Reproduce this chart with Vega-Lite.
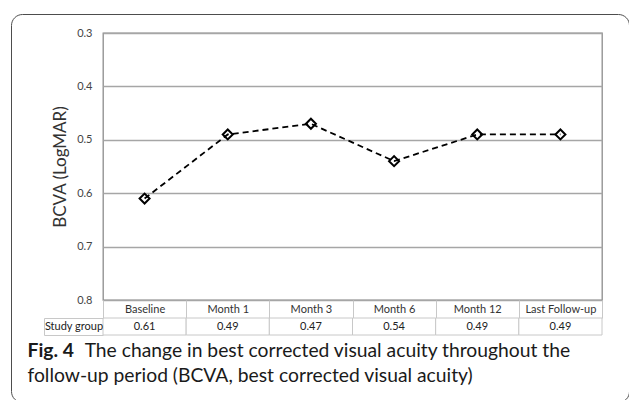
{
  "$schema": "https://vega.github.io/schema/vega-lite/v6.json",
  "padding": {"left": 10, "top": 11, "right": 0, "bottom": 0},
  "config": {"font": "Lato", "view": {"stroke": null}},
  "datasets": {
    "bcva": [
      {"time": "Baseline", "bcva": 0.61, "group": "Study group"},
      {"time": "Month 1", "bcva": 0.49, "group": "Study group"},
      {"time": "Month 3", "bcva": 0.47, "group": "Study group"},
      {"time": "Month 6", "bcva": 0.54, "group": "Study group"},
      {"time": "Month 12", "bcva": 0.49, "group": "Study group"},
      {"time": "Last Follow-up", "bcva": 0.49, "group": "Study group"}
    ]
  },
  "bounds": "flush",
  "spacing": 18,
  "vconcat": [
    {
      "width": 499,
      "height": 1,
      "data": {"name": "bcva"},
      "mark": {"type": "point", "opacity": 0},
      "encoding": {
        "color": {
          "field": "bcva", "type": "quantitative",
          "scale": {"range": ["transparent", "transparent"]},
          "legend": {
            "title": null, "orient": "none", "legendX": -92, "legendY": 0,
            "direction": "vertical", "gradientLength": 388, "gradientThickness": 616,
            "gradientStrokeWidth": 0, "gradientOpacity": 0,
            "labelOpacity": 0, "labelFontSize": 1, "labelOffset": 0,
            "padding": 0, "strokeColor": "#4d4d4d", "cornerRadius": 11
          }
        }
      }
    },
    {
      "width": 499,
      "height": 267,
      "data": {"name": "bcva"},
      "view": {"stroke": "#8c8c8c", "strokeWidth": 1.3},
      "title": {
        "text": "The change in best corrected visual acuity throughout the",
        "orient": "bottom", "anchor": "start", "font": "Lato", "fontSize": 19.3, "fontWeight": "normal",
        "color": "#1a1a1a", "offset": 23, "dx": 33
      },
      "encoding": {
        "x": {
          "field": "time", "type": "nominal", "sort": null,
          "scale": {"type": "band", "paddingInner": 0, "paddingOuter": 0},
          "axis": {"title": null, "orient": "bottom", "domain": false, "labelAngle": 0, "tickBand": "extent", "tickSize": 18, "tickColor": "#c8c8c8", "tickWidth": 1, "labelPadding": -9, "labelBaseline": "middle", "labelFontSize": 11, "labelColor": "#333333", "grid": false}
        },
        "y": {
          "field": "bcva", "type": "quantitative",
          "scale": {"domain": [0.3, 0.8], "reverse": true, "nice": false, "zero": false},
          "axis": {"title": "BCVA (LogMAR)", "values": [0.3, 0.4, 0.5, 0.6, 0.7, 0.8], "format": ".1f", "domain": false, "ticks": false, "labelPadding": 11, "labelFontSize": 11, "labelColor": "#444444", "grid": true, "gridColor": "#a6a6a6", "gridWidth": 1.3, "titleFontSize": 17, "titleFontWeight": "normal", "titleColor": "#333333", "titlePadding": 7}
        }
      },
      "layer": [
        {"mark": {"type": "line", "color": "#000000", "strokeDash": [6, 4], "strokeWidth": 1.8}},
        {"mark": {"type": "point", "shape": "diamond", "filled": false, "color": "#000000", "strokeWidth": 2, "size": 100, "opacity": 1}}
      ]
    },
    {
      "width": 499,
      "height": 17,
      "data": {"name": "bcva"},
      "title": {
        "text": "Fig. 4",
        "orient": "bottom", "anchor": "start", "font": "Lato", "fontSize": 19.3, "fontWeight": "bold",
        "color": "#1a1a1a", "offset": 6, "dx": -16,
        "subtitle": "follow-up period (BCVA, best corrected visual acuity)",
        "subtitleFont": "Lato", "subtitleFontSize": 19.3, "subtitleColor": "#1a1a1a", "subtitlePadding": 6.5
      },
      "encoding": {
        "x": {"field": "time", "type": "nominal", "sort": null, "scale": {"type": "band", "paddingInner": 0, "paddingOuter": 0}, "axis": null},
        "y": {
          "field": "group", "type": "nominal",
          "scale": {"paddingInner": 0, "paddingOuter": 0},
          "axis": {"title": null, "offset": 59, "domainColor": "#c8c8c8", "tickBand": "extent", "tickSize": -59, "tickColor": "#c8c8c8", "labelPadding": 29.5, "labelAlign": "center", "labelBaseline": "middle", "labelFontSize": 11, "labelColor": "#222222"}
        }
      },
      "layer": [
        {"mark": {"type": "rect", "fill": "white", "stroke": "#c8c8c8", "strokeWidth": 1}},
        {"mark": {"type": "text", "fontSize": 11, "color": "#222222"}, "encoding": {"text": {"field": "bcva", "type": "quantitative", "format": ".2f"}}}
      ]
    }
  ]
}
